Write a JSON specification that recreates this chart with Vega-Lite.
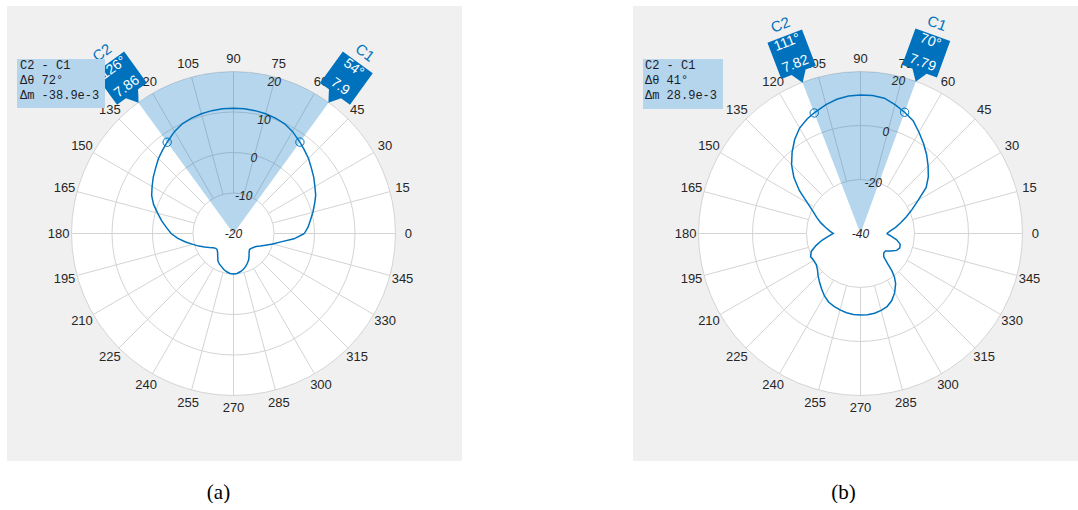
{
  "$schema": "https://vega.github.io/schema/vega-lite/v6.json",
  "padding": {"left": 7, "top": 6, "right": 0, "bottom": 0},
  "background": "white",
  "spacing": 171,
  "config": {"view": {"fill": "#f0f0f0", "stroke": null}, "font": "Liberation Sans"},
  "datasets": {
    "angles": [{"ang":0},{"ang":15},{"ang":30},{"ang":45},{"ang":60},{"ang":75},{"ang":90},{"ang":105},{"ang":120},{"ang":135},{"ang":150},{"ang":165},{"ang":180},{"ang":195},{"ang":210},{"ang":225},{"ang":240},{"ang":255},{"ang":270},{"ang":285},{"ang":300},{"ang":315},{"ang":330},{"ang":345}],
    "magsA": [{"mag":-20},{"mag":-10},{"mag":0},{"mag":10},{"mag":20}],
    "magsB": [{"mag":-40},{"mag":-20},{"mag":0},{"mag":20}],
    "sectorA": [{"a1":54,"a2":126}],
    "sectorB": [{"a1":70,"a2":111}],
    "cursorsA": [{"c":"C1","ang":54,"mag":7.9},{"c":"C2","ang":126,"mag":7.86}],
    "cursorsB": [{"c":"C1","ang":70,"mag":7.79},{"c":"C2","ang":111,"mag":7.82}],
    "deltaA": [{"txt":"C2 - C1\nΔθ 72°\nΔm -38.9e-3"}],
    "deltaB": [{"txt":"C2 - C1\nΔθ 41°\nΔm 28.9e-3"}],
    "curveA": [{"ang":0,"mag":-2.5},{"ang":5,"mag":-1.5},{"ang":10,"mag":-0.7},{"ang":15,"mag":0.3},{"ang":20,"mag":1.3},{"ang":25,"mag":2.4},{"ang":30,"mag":3.2},{"ang":35,"mag":4.2},{"ang":40,"mag":5.1},{"ang":45,"mag":6.2},{"ang":50,"mag":7.1},{"ang":54,"mag":7.9},{"ang":60,"mag":9.1},{"ang":65,"mag":9.9},{"ang":70,"mag":10.3},{"ang":75,"mag":10.6},{"ang":80,"mag":10.8},{"ang":85,"mag":10.9},{"ang":90,"mag":10.9},{"ang":95,"mag":10.9},{"ang":100,"mag":10.8},{"ang":105,"mag":10.6},{"ang":110,"mag":10.3},{"ang":115,"mag":9.9},{"ang":120,"mag":9.1},{"ang":126,"mag":7.86},{"ang":130,"mag":7.1},{"ang":135,"mag":6.2},{"ang":140,"mag":5.1},{"ang":145,"mag":4.2},{"ang":150,"mag":3.2},{"ang":155,"mag":2.3},{"ang":160,"mag":1.0},{"ang":165,"mag":-0.6},{"ang":170,"mag":-2.0},{"ang":175,"mag":-3.4},{"ang":180,"mag":-4.6},{"ang":185,"mag":-6.2},{"ang":190,"mag":-8.0},{"ang":195,"mag":-9.6},{"ang":200,"mag":-10.9},{"ang":205,"mag":-12.1},{"ang":210,"mag":-13.1},{"ang":215,"mag":-13.9},{"ang":220,"mag":-14.3},{"ang":225,"mag":-14.3},{"ang":230,"mag":-13.9},{"ang":235,"mag":-13.2},{"ang":240,"mag":-12.3},{"ang":245,"mag":-11.7},{"ang":250,"mag":-11.3},{"ang":255,"mag":-10.8},{"ang":260,"mag":-10.4},{"ang":265,"mag":-10.1},{"ang":270,"mag":-10.0},{"ang":275,"mag":-10.1},{"ang":280,"mag":-10.4},{"ang":285,"mag":-10.8},{"ang":290,"mag":-11.3},{"ang":295,"mag":-11.9},{"ang":300,"mag":-12.5},{"ang":305,"mag":-13.3},{"ang":310,"mag":-14.0},{"ang":315,"mag":-14.4},{"ang":320,"mag":-14.3},{"ang":325,"mag":-14.0},{"ang":330,"mag":-13.6},{"ang":335,"mag":-12.7},{"ang":340,"mag":-11.6},{"ang":345,"mag":-10.0},{"ang":350,"mag":-8.1},{"ang":355,"mag":-5.0},{"ang":360,"mag":-2.5}],
    "curveB": [{"ang":0,"mag":-30.3},{"ang":5,"mag":-28.9},{"ang":10,"mag":-26.8},{"ang":15,"mag":-24.6},{"ang":20,"mag":-21.9},{"ang":25,"mag":-18.9},{"ang":30,"mag":-15.3},{"ang":35,"mag":-10.3},{"ang":40,"mag":-7.2},{"ang":45,"mag":-4.6},{"ang":50,"mag":-1.9},{"ang":55,"mag":0.7},{"ang":60,"mag":3.3},{"ang":65,"mag":6.1},{"ang":70,"mag":7.79},{"ang":75,"mag":9.4},{"ang":80,"mag":10.9},{"ang":85,"mag":11.3},{"ang":90,"mag":11.3},{"ang":95,"mag":11.1},{"ang":100,"mag":10.5},{"ang":105,"mag":9.4},{"ang":111,"mag":7.82},{"ang":115,"mag":6.8},{"ang":120,"mag":5.1},{"ang":125,"mag":2.5},{"ang":130,"mag":-0.6},{"ang":135,"mag":-3.9},{"ang":140,"mag":-7.8},{"ang":145,"mag":-12.4},{"ang":150,"mag":-17.3},{"ang":155,"mag":-20.6},{"ang":160,"mag":-22.8},{"ang":165,"mag":-24.8},{"ang":170,"mag":-26.8},{"ang":175,"mag":-28.5},{"ang":180,"mag":-29.9},{"ang":185,"mag":-28.0},{"ang":190,"mag":-25.5},{"ang":195,"mag":-23.0},{"ang":200,"mag":-20.6},{"ang":205,"mag":-19.6},{"ang":210,"mag":-20.0},{"ang":215,"mag":-20.0},{"ang":220,"mag":-19.2},{"ang":225,"mag":-17.8},{"ang":230,"mag":-16.4},{"ang":235,"mag":-14.9},{"ang":240,"mag":-13.3},{"ang":245,"mag":-12.0},{"ang":250,"mag":-11.3},{"ang":255,"mag":-10.7},{"ang":260,"mag":-10.2},{"ang":265,"mag":-9.9},{"ang":270,"mag":-9.8},{"ang":275,"mag":-9.8},{"ang":280,"mag":-10.0},{"ang":285,"mag":-10.5},{"ang":290,"mag":-11.2},{"ang":295,"mag":-12.6},{"ang":300,"mag":-14.7},{"ang":305,"mag":-17.3},{"ang":308,"mag":-19.6},{"ang":310,"mag":-21.9},{"ang":312,"mag":-25.0},{"ang":315,"mag":-27.8},{"ang":320,"mag":-28.8},{"ang":325,"mag":-28.7},{"ang":330,"mag":-27.0},{"ang":335,"mag":-25.2},{"ang":340,"mag":-24.5},{"ang":345,"mag":-24.8},{"ang":350,"mag":-26.4},{"ang":355,"mag":-28.6},{"ang":360,"mag":-30.3}]
  },
  "hconcat": [
    {
      "width": 455,
      "height": 455,
      "title": {"text": "(a)", "orient": "bottom", "font": "Liberation Serif", "fontSize": 21, "fontWeight": "normal", "color": "black", "dx": -16, "offset": 21, "baseline": "top"},
      "layer": [
        {
          "data": {"name": "magsA"},
          "transform": [{"filter": "datum.mag == 20"}, {"calculate": "(datum.mag + 20) / 40", "as": "rn"}],
          "mark": {"type": "arc", "fill": "white", "theta": 0, "theta2": 6.2832},
          "encoding": {
            "x": {"datum": 0, "type": "quantitative", "scale": {"domain": [-1.3981, 1.4105], "nice": false, "zero": false}, "axis": null},
            "y": {"datum": 0, "type": "quantitative", "scale": {"domain": [-1.4043, 1.4043], "nice": false, "zero": false}, "axis": null},
            "radius": {"field": "rn", "type": "quantitative", "scale": {"type": "linear", "domain": [0, 1], "range": [0, 162], "nice": false}}
          }
        },
        {
          "data": {"name": "magsA"},
          "transform": [{"filter": "datum.mag > -20"}, {"calculate": "(datum.mag + 20) / 40", "as": "rn"}],
          "mark": {"type": "point", "shape": "circle", "filled": false, "stroke": "#d4d4d4", "strokeWidth": 1, "opacity": 1},
          "encoding": {
            "x": {"datum": 0, "type": "quantitative", "scale": {"domain": [-1.3981, 1.4105], "nice": false, "zero": false}, "axis": null},
            "y": {"datum": 0, "type": "quantitative", "scale": {"domain": [-1.4043, 1.4043], "nice": false, "zero": false}, "axis": null},
            "size": {"field": "rn", "type": "quantitative", "scale": {"type": "pow", "exponent": 2, "domain": [0, 1], "range": [0, 104976], "nice": false}, "legend": null}
          }
        },
        {
          "data": {"name": "angles"},
          "transform": [
            {"calculate": "0.25 * cos(datum.ang * PI / 180)", "as": "x"},
            {"calculate": "0.25 * sin(datum.ang * PI / 180)", "as": "y"},
            {"calculate": "cos(datum.ang * PI / 180)", "as": "x2"},
            {"calculate": "sin(datum.ang * PI / 180)", "as": "y2"}
          ],
          "mark": {"type": "rule", "color": "#d4d4d4", "strokeWidth": 1},
          "encoding": {
            "x": {"field": "x", "type": "quantitative", "scale": {"domain": [-1.3981, 1.4105], "nice": false, "zero": false}, "axis": null},
            "y": {"field": "y", "type": "quantitative", "scale": {"domain": [-1.4043, 1.4043], "nice": false, "zero": false}, "axis": null},
            "x2": {"field": "x2"}, "y2": {"field": "y2"}
          }
        },
        {
          "data": {"name": "sectorA"},
          "transform": [
            {"calculate": "(90 - datum.a1) * PI / 180", "as": "t1"},
            {"calculate": "(90 - datum.a2) * PI / 180", "as": "t2"}
          ],
          "mark": {"type": "arc", "color": "#0072bd", "opacity": 0.29},
          "encoding": {
            "x": {"datum": 0, "type": "quantitative", "scale": {"domain": [-1.3981, 1.4105], "nice": false, "zero": false}, "axis": null},
            "y": {"datum": 0, "type": "quantitative", "scale": {"domain": [-1.4043, 1.4043], "nice": false, "zero": false}, "axis": null},
            "theta": {"field": "t1", "type": "quantitative", "scale": null, "stack": null},
            "theta2": {"field": "t2"},
            "radius": {"datum": 1, "type": "quantitative", "scale": {"type": "linear", "domain": [0, 1], "range": [0, 162], "nice": false}}
          }
        },
        {
          "data": {"name": "curveA"},
          "transform": [
            {"calculate": "(datum.mag + 20) / 40", "as": "rn"},
            {"calculate": "datum.rn * cos(datum.ang * PI / 180)", "as": "x"},
            {"calculate": "datum.rn * sin(datum.ang * PI / 180)", "as": "y"}
          ],
          "mark": {"type": "line", "color": "#0072bd", "strokeWidth": 1.5},
          "encoding": {
            "x": {"field": "x", "type": "quantitative", "scale": {"domain": [-1.3981, 1.4105], "nice": false, "zero": false}, "axis": null},
            "y": {"field": "y", "type": "quantitative", "scale": {"domain": [-1.4043, 1.4043], "nice": false, "zero": false}, "axis": null},
            "order": {"field": "ang", "type": "quantitative"}
          }
        },
        {
          "data": {"name": "cursorsA"},
          "transform": [
            {"calculate": "(datum.mag + 20) / 40", "as": "rn"},
            {"calculate": "datum.rn * cos(datum.ang * PI / 180)", "as": "x"},
            {"calculate": "datum.rn * sin(datum.ang * PI / 180)", "as": "y"}
          ],
          "mark": {"type": "point", "shape": "circle", "filled": false, "size": 70, "color": "#0072bd", "strokeWidth": 1, "opacity": 1},
          "encoding": {
            "x": {"field": "x", "type": "quantitative", "scale": {"domain": [-1.3981, 1.4105], "nice": false, "zero": false}, "axis": null},
            "y": {"field": "y", "type": "quantitative", "scale": {"domain": [-1.4043, 1.4043], "nice": false, "zero": false}, "axis": null}
          }
        },
        {
          "data": {"name": "magsA"},
          "transform": [
            {"calculate": "0.97 * (datum.mag + 20) / 40", "as": "rl"},
            {"calculate": "datum.rl * cos(75 * PI / 180)", "as": "x"},
            {"calculate": "datum.rl * sin(75 * PI / 180)", "as": "y"}
          ],
          "mark": {"type": "text", "fontSize": 12, "fontStyle": "italic", "color": "#262626", "align": "center", "baseline": "middle"},
          "encoding": {
            "x": {"field": "x", "type": "quantitative", "scale": {"domain": [-1.3981, 1.4105], "nice": false, "zero": false}, "axis": null},
            "y": {"field": "y", "type": "quantitative", "scale": {"domain": [-1.4043, 1.4043], "nice": false, "zero": false}, "axis": null},
            "text": {"field": "mag", "type": "nominal"}
          }
        },
        {
          "data": {"name": "angles"},
          "transform": [
            {"calculate": "1.08 * cos(datum.ang * PI / 180)", "as": "x"},
            {"calculate": "1.08 * sin(datum.ang * PI / 180)", "as": "y"}
          ],
          "mark": {"type": "text", "fontSize": 13, "color": "#262626", "align": "center", "baseline": "middle"},
          "encoding": {
            "x": {"field": "x", "type": "quantitative", "scale": {"domain": [-1.3981, 1.4105], "nice": false, "zero": false}, "axis": null},
            "y": {"field": "y", "type": "quantitative", "scale": {"domain": [-1.4043, 1.4043], "nice": false, "zero": false}, "axis": null},
            "text": {"field": "ang", "type": "nominal"}
          }
        },
        {
          "data": {"name": "cursorsA"},
          "transform": [
            {"calculate": "1.151 * cos(datum.ang * PI / 180)", "as": "x"},
            {"calculate": "1.151 * sin(datum.ang * PI / 180)", "as": "y"},
            {"calculate": "90 - datum.ang", "as": "rot"}
          ],
          "mark": {"type": "point", "shape": "M-0.74,-1L0.74,-1L0.74,0.55L0.3,0.55L0,1L-0.3,0.55L-0.74,0.55Z", "filled": true, "size": 2500, "color": "#0072bd", "opacity": 1, "strokeWidth": 0},
          "encoding": {
            "x": {"field": "x", "type": "quantitative", "scale": {"domain": [-1.3981, 1.4105], "nice": false, "zero": false}, "axis": null},
            "y": {"field": "y", "type": "quantitative", "scale": {"domain": [-1.4043, 1.4043], "nice": false, "zero": false}, "axis": null},
            "angle": {"field": "rot", "type": "quantitative", "scale": null}
          }
        },
        {
          "data": {"name": "cursorsA"},
          "transform": [
            {"calculate": "1.262 * cos(datum.ang * PI / 180)", "as": "x"},
            {"calculate": "1.262 * sin(datum.ang * PI / 180)", "as": "y"},
            {"calculate": "90 - datum.ang", "as": "rot"},
            {"calculate": "datum.ang + '°'", "as": "deg"}
          ],
          "mark": {"type": "text", "fontSize": 14, "color": "white", "align": "center", "baseline": "middle"},
          "encoding": {
            "x": {"field": "x", "type": "quantitative", "scale": {"domain": [-1.3981, 1.4105], "nice": false, "zero": false}, "axis": null},
            "y": {"field": "y", "type": "quantitative", "scale": {"domain": [-1.4043, 1.4043], "nice": false, "zero": false}, "axis": null},
            "text": {"field": "deg", "type": "nominal"},
            "angle": {"field": "rot", "type": "quantitative", "scale": null}
          }
        },
        {
          "data": {"name": "cursorsA"},
          "transform": [
            {"calculate": "1.12 * cos(datum.ang * PI / 180)", "as": "x"},
            {"calculate": "1.12 * sin(datum.ang * PI / 180)", "as": "y"},
            {"calculate": "90 - datum.ang", "as": "rot"}
          ],
          "mark": {"type": "text", "fontSize": 14, "color": "white", "align": "center", "baseline": "middle"},
          "encoding": {
            "x": {"field": "x", "type": "quantitative", "scale": {"domain": [-1.3981, 1.4105], "nice": false, "zero": false}, "axis": null},
            "y": {"field": "y", "type": "quantitative", "scale": {"domain": [-1.4043, 1.4043], "nice": false, "zero": false}, "axis": null},
            "text": {"field": "mag", "type": "nominal"},
            "angle": {"field": "rot", "type": "quantitative", "scale": null}
          }
        },
        {
          "data": {"name": "cursorsA"},
          "transform": [
            {"calculate": "1.38 * cos(datum.ang * PI / 180)", "as": "x"},
            {"calculate": "1.38 * sin(datum.ang * PI / 180)", "as": "y"},
            {"calculate": "90 - datum.ang", "as": "rot"}
          ],
          "mark": {"type": "text", "fontSize": 15, "color": "#0072bd", "align": "center", "baseline": "middle"},
          "encoding": {
            "x": {"field": "x", "type": "quantitative", "scale": {"domain": [-1.3981, 1.4105], "nice": false, "zero": false}, "axis": null},
            "y": {"field": "y", "type": "quantitative", "scale": {"domain": [-1.4043, 1.4043], "nice": false, "zero": false}, "axis": null},
            "text": {"field": "c", "type": "nominal"},
            "angle": {"field": "rot", "type": "quantitative", "scale": null}
          }
        },
        {
          "data": {"name": "deltaA"},
          "mark": {"type": "rect", "color": "#b5d5ec", "opacity": 1},
          "encoding": {
            "x": {"datum": -1.3364, "type": "quantitative", "scale": {"domain": [-1.3981, 1.4105], "nice": false, "zero": false}, "axis": null},
            "x2": {"datum": -0.7932},
            "y": {"datum": 1.0772, "type": "quantitative", "scale": {"domain": [-1.4043, 1.4043], "nice": false, "zero": false}, "axis": null},
            "y2": {"datum": 0.7747}
          }
        },
        {
          "data": {"name": "deltaA"},
          "mark": {"type": "text", "align": "left", "baseline": "top", "font": "Liberation Mono", "fontSize": 12, "lineBreak": "\n", "lineHeight": 15, "color": "#1c1c28"},
          "encoding": {
            "x": {"datum": -1.3179, "type": "quantitative", "scale": {"domain": [-1.3981, 1.4105], "nice": false, "zero": false}, "axis": null},
            "y": {"datum": 1.071, "type": "quantitative", "scale": {"domain": [-1.4043, 1.4043], "nice": false, "zero": false}, "axis": null},
            "text": {"field": "txt", "type": "nominal"}
          }
        }
      ]
    },
    {
      "width": 445,
      "height": 455,
      "title": {"text": "(b)", "orient": "bottom", "font": "Liberation Serif", "fontSize": 21, "fontWeight": "normal", "color": "black", "dx": -12, "offset": 21, "baseline": "top"},
      "layer": [
        {
          "data": {"name": "magsB"},
          "transform": [{"filter": "datum.mag == 20"}, {"calculate": "(datum.mag + 40) / 60", "as": "rn"}],
          "mark": {"type": "arc", "fill": "white", "theta": 0, "theta2": 6.2832},
          "encoding": {
            "x": {"datum": 0, "type": "quantitative", "scale": {"domain": [-1.4043, 1.3426], "nice": false, "zero": false}, "axis": null},
            "y": {"datum": 0, "type": "quantitative", "scale": {"domain": [-1.4043, 1.4043], "nice": false, "zero": false}, "axis": null},
            "radius": {"field": "rn", "type": "quantitative", "scale": {"type": "linear", "domain": [0, 1], "range": [0, 162], "nice": false}}
          }
        },
        {
          "data": {"name": "magsB"},
          "transform": [{"filter": "datum.mag > -40"}, {"calculate": "(datum.mag + 40) / 60", "as": "rn"}],
          "mark": {"type": "point", "shape": "circle", "filled": false, "stroke": "#d4d4d4", "strokeWidth": 1, "opacity": 1},
          "encoding": {
            "x": {"datum": 0, "type": "quantitative", "scale": {"domain": [-1.4043, 1.3426], "nice": false, "zero": false}, "axis": null},
            "y": {"datum": 0, "type": "quantitative", "scale": {"domain": [-1.4043, 1.4043], "nice": false, "zero": false}, "axis": null},
            "size": {"field": "rn", "type": "quantitative", "scale": {"type": "pow", "exponent": 2, "domain": [0, 1], "range": [0, 104976], "nice": false}, "legend": null}
          }
        },
        {
          "data": {"name": "angles"},
          "transform": [
            {"calculate": "cos(datum.ang * PI / 180) / 3", "as": "x"},
            {"calculate": "sin(datum.ang * PI / 180) / 3", "as": "y"},
            {"calculate": "cos(datum.ang * PI / 180)", "as": "x2"},
            {"calculate": "sin(datum.ang * PI / 180)", "as": "y2"}
          ],
          "mark": {"type": "rule", "color": "#d4d4d4", "strokeWidth": 1},
          "encoding": {
            "x": {"field": "x", "type": "quantitative", "scale": {"domain": [-1.4043, 1.3426], "nice": false, "zero": false}, "axis": null},
            "y": {"field": "y", "type": "quantitative", "scale": {"domain": [-1.4043, 1.4043], "nice": false, "zero": false}, "axis": null},
            "x2": {"field": "x2"}, "y2": {"field": "y2"}
          }
        },
        {
          "data": {"name": "sectorB"},
          "transform": [
            {"calculate": "(90 - datum.a1) * PI / 180", "as": "t1"},
            {"calculate": "(90 - datum.a2) * PI / 180", "as": "t2"}
          ],
          "mark": {"type": "arc", "color": "#0072bd", "opacity": 0.29},
          "encoding": {
            "x": {"datum": 0, "type": "quantitative", "scale": {"domain": [-1.4043, 1.3426], "nice": false, "zero": false}, "axis": null},
            "y": {"datum": 0, "type": "quantitative", "scale": {"domain": [-1.4043, 1.4043], "nice": false, "zero": false}, "axis": null},
            "theta": {"field": "t1", "type": "quantitative", "scale": null, "stack": null},
            "theta2": {"field": "t2"},
            "radius": {"datum": 1, "type": "quantitative", "scale": {"type": "linear", "domain": [0, 1], "range": [0, 162], "nice": false}}
          }
        },
        {
          "data": {"name": "curveB"},
          "transform": [
            {"calculate": "(datum.mag + 40) / 60", "as": "rn"},
            {"calculate": "datum.rn * cos(datum.ang * PI / 180)", "as": "x"},
            {"calculate": "datum.rn * sin(datum.ang * PI / 180)", "as": "y"}
          ],
          "mark": {"type": "line", "color": "#0072bd", "strokeWidth": 1.5},
          "encoding": {
            "x": {"field": "x", "type": "quantitative", "scale": {"domain": [-1.4043, 1.3426], "nice": false, "zero": false}, "axis": null},
            "y": {"field": "y", "type": "quantitative", "scale": {"domain": [-1.4043, 1.4043], "nice": false, "zero": false}, "axis": null},
            "order": {"field": "ang", "type": "quantitative"}
          }
        },
        {
          "data": {"name": "cursorsB"},
          "transform": [
            {"calculate": "(datum.mag + 40) / 60", "as": "rn"},
            {"calculate": "datum.rn * cos(datum.ang * PI / 180)", "as": "x"},
            {"calculate": "datum.rn * sin(datum.ang * PI / 180)", "as": "y"}
          ],
          "mark": {"type": "point", "shape": "circle", "filled": false, "size": 70, "color": "#0072bd", "strokeWidth": 1, "opacity": 1},
          "encoding": {
            "x": {"field": "x", "type": "quantitative", "scale": {"domain": [-1.4043, 1.3426], "nice": false, "zero": false}, "axis": null},
            "y": {"field": "y", "type": "quantitative", "scale": {"domain": [-1.4043, 1.4043], "nice": false, "zero": false}, "axis": null}
          }
        },
        {
          "data": {"name": "magsB"},
          "transform": [
            {"calculate": "0.97 * (datum.mag + 40) / 60", "as": "rl"},
            {"calculate": "datum.rl * cos(76 * PI / 180)", "as": "x"},
            {"calculate": "datum.rl * sin(76 * PI / 180)", "as": "y"}
          ],
          "mark": {"type": "text", "fontSize": 12, "fontStyle": "italic", "color": "#262626", "align": "center", "baseline": "middle"},
          "encoding": {
            "x": {"field": "x", "type": "quantitative", "scale": {"domain": [-1.4043, 1.3426], "nice": false, "zero": false}, "axis": null},
            "y": {"field": "y", "type": "quantitative", "scale": {"domain": [-1.4043, 1.4043], "nice": false, "zero": false}, "axis": null},
            "text": {"field": "mag", "type": "nominal"}
          }
        },
        {
          "data": {"name": "angles"},
          "transform": [
            {"calculate": "1.08 * cos(datum.ang * PI / 180)", "as": "x"},
            {"calculate": "1.08 * sin(datum.ang * PI / 180)", "as": "y"}
          ],
          "mark": {"type": "text", "fontSize": 13, "color": "#262626", "align": "center", "baseline": "middle"},
          "encoding": {
            "x": {"field": "x", "type": "quantitative", "scale": {"domain": [-1.4043, 1.3426], "nice": false, "zero": false}, "axis": null},
            "y": {"field": "y", "type": "quantitative", "scale": {"domain": [-1.4043, 1.4043], "nice": false, "zero": false}, "axis": null},
            "text": {"field": "ang", "type": "nominal"}
          }
        },
        {
          "data": {"name": "cursorsB"},
          "transform": [
            {"calculate": "1.151 * cos(datum.ang * PI / 180)", "as": "x"},
            {"calculate": "1.151 * sin(datum.ang * PI / 180)", "as": "y"},
            {"calculate": "90 - datum.ang", "as": "rot"}
          ],
          "mark": {"type": "point", "shape": "M-0.74,-1L0.74,-1L0.74,0.55L0.3,0.55L0,1L-0.3,0.55L-0.74,0.55Z", "filled": true, "size": 2500, "color": "#0072bd", "opacity": 1, "strokeWidth": 0},
          "encoding": {
            "x": {"field": "x", "type": "quantitative", "scale": {"domain": [-1.4043, 1.3426], "nice": false, "zero": false}, "axis": null},
            "y": {"field": "y", "type": "quantitative", "scale": {"domain": [-1.4043, 1.4043], "nice": false, "zero": false}, "axis": null},
            "angle": {"field": "rot", "type": "quantitative", "scale": null}
          }
        },
        {
          "data": {"name": "cursorsB"},
          "transform": [
            {"calculate": "1.262 * cos(datum.ang * PI / 180)", "as": "x"},
            {"calculate": "1.262 * sin(datum.ang * PI / 180)", "as": "y"},
            {"calculate": "90 - datum.ang", "as": "rot"},
            {"calculate": "datum.ang + '°'", "as": "deg"}
          ],
          "mark": {"type": "text", "fontSize": 14, "color": "white", "align": "center", "baseline": "middle"},
          "encoding": {
            "x": {"field": "x", "type": "quantitative", "scale": {"domain": [-1.4043, 1.3426], "nice": false, "zero": false}, "axis": null},
            "y": {"field": "y", "type": "quantitative", "scale": {"domain": [-1.4043, 1.4043], "nice": false, "zero": false}, "axis": null},
            "text": {"field": "deg", "type": "nominal"},
            "angle": {"field": "rot", "type": "quantitative", "scale": null}
          }
        },
        {
          "data": {"name": "cursorsB"},
          "transform": [
            {"calculate": "1.12 * cos(datum.ang * PI / 180)", "as": "x"},
            {"calculate": "1.12 * sin(datum.ang * PI / 180)", "as": "y"},
            {"calculate": "90 - datum.ang", "as": "rot"}
          ],
          "mark": {"type": "text", "fontSize": 14, "color": "white", "align": "center", "baseline": "middle"},
          "encoding": {
            "x": {"field": "x", "type": "quantitative", "scale": {"domain": [-1.4043, 1.3426], "nice": false, "zero": false}, "axis": null},
            "y": {"field": "y", "type": "quantitative", "scale": {"domain": [-1.4043, 1.4043], "nice": false, "zero": false}, "axis": null},
            "text": {"field": "mag", "type": "nominal"},
            "angle": {"field": "rot", "type": "quantitative", "scale": null}
          }
        },
        {
          "data": {"name": "cursorsB"},
          "transform": [
            {"calculate": "1.38 * cos(datum.ang * PI / 180)", "as": "x"},
            {"calculate": "1.38 * sin(datum.ang * PI / 180)", "as": "y"},
            {"calculate": "90 - datum.ang", "as": "rot"}
          ],
          "mark": {"type": "text", "fontSize": 15, "color": "#0072bd", "align": "center", "baseline": "middle"},
          "encoding": {
            "x": {"field": "x", "type": "quantitative", "scale": {"domain": [-1.4043, 1.3426], "nice": false, "zero": false}, "axis": null},
            "y": {"field": "y", "type": "quantitative", "scale": {"domain": [-1.4043, 1.4043], "nice": false, "zero": false}, "axis": null},
            "text": {"field": "c", "type": "nominal"},
            "angle": {"field": "rot", "type": "quantitative", "scale": null}
          }
        },
        {
          "data": {"name": "deltaB"},
          "mark": {"type": "rect", "color": "#b5d5ec", "opacity": 1},
          "encoding": {
            "x": {"datum": -1.3426, "type": "quantitative", "scale": {"domain": [-1.4043, 1.3426], "nice": false, "zero": false}, "axis": null},
            "x2": {"datum": -0.8488},
            "y": {"datum": 1.0772, "type": "quantitative", "scale": {"domain": [-1.4043, 1.4043], "nice": false, "zero": false}, "axis": null},
            "y2": {"datum": 0.7685}
          }
        },
        {
          "data": {"name": "deltaB"},
          "mark": {"type": "text", "align": "left", "baseline": "top", "font": "Liberation Mono", "fontSize": 12, "lineBreak": "\n", "lineHeight": 15, "color": "#1c1c28"},
          "encoding": {
            "x": {"datum": -1.3302, "type": "quantitative", "scale": {"domain": [-1.4043, 1.3426], "nice": false, "zero": false}, "axis": null},
            "y": {"datum": 1.071, "type": "quantitative", "scale": {"domain": [-1.4043, 1.4043], "nice": false, "zero": false}, "axis": null},
            "text": {"field": "txt", "type": "nominal"}
          }
        }
      ]
    }
  ]
}
